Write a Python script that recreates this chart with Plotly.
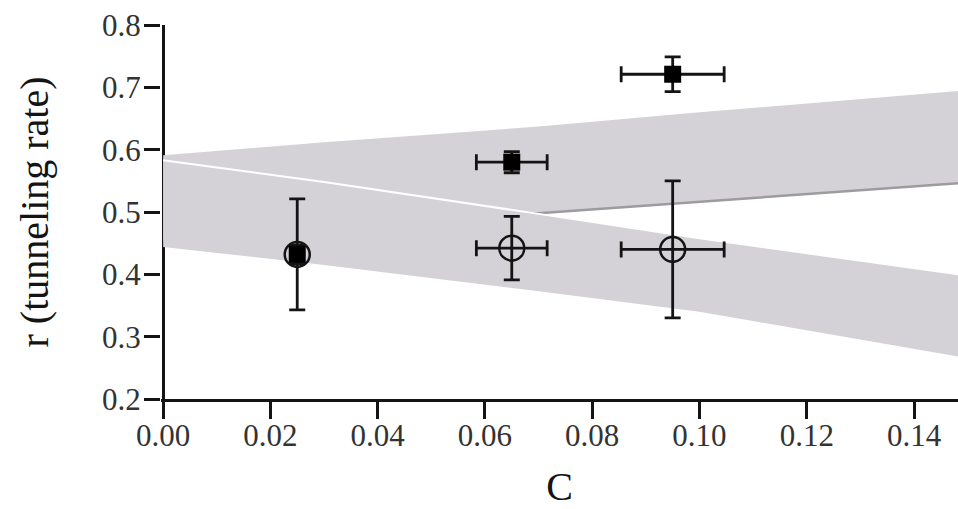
import plotly.graph_objects as go

# ---- data ----
# confidence bands (edge values sampled along C)
band_c = [0.0, 0.03, 0.07, 0.10, 0.1482]
upper_band_top = [0.591, 0.612, 0.637, 0.660, 0.694]
upper_band_bottom = [0.455, 0.475, 0.498, 0.516, 0.546]
lower_band_top = [0.583, 0.548, 0.497, 0.458, 0.400]
lower_band_bottom = [0.444, 0.415, 0.373, 0.340, 0.268]

# filled squares
sq_c = [0.025, 0.065, 0.095]
sq_r = [0.432, 0.580, 0.721]
sq_r_err = [0.015, 0.017, 0.028]
sq_c_err = [0.0, 0.0066, 0.0096]

# open circles
ci_c = [0.025, 0.065, 0.095]
ci_r = [0.432, 0.442, 0.440]
ci_r_err = [0.089, 0.051, 0.110]
ci_c_err = [0.0, 0.0066, 0.0096]

x_ticks = [0.00, 0.02, 0.04, 0.06, 0.08, 0.10, 0.12, 0.14]
x_ticklabels = ["0.00", "0.02", "0.04", "0.06", "0.08", "0.10", "0.12", "0.14"]
y_ticks = [0.2, 0.3, 0.4, 0.5, 0.6, 0.7, 0.8]
y_ticklabels = ["0.2", "0.3", "0.4", "0.5", "0.6", "0.7", "0.8"]

BAND = "#d4d2d7"
INK = "#141414"
FONT = "Liberation Serif"

fig = go.Figure()

# upper band
fig.add_trace(go.Scatter(
    x=band_c + band_c[::-1], y=upper_band_top + upper_band_bottom[::-1],
    fill="toself", fillcolor=BAND, line=dict(width=0), mode="lines",
    hoverinfo="skip", showlegend=False))
# darker edge along the upper band's lower boundary
fig.add_trace(go.Scatter(
    x=band_c, y=upper_band_bottom, mode="lines",
    line=dict(color="#9d9ba0", width=2.5), hoverinfo="skip", showlegend=False))
# lower band
fig.add_trace(go.Scatter(
    x=band_c + band_c[::-1], y=lower_band_top + lower_band_bottom[::-1],
    fill="toself", fillcolor=BAND, line=dict(width=0), mode="lines",
    hoverinfo="skip", showlegend=False))
# thin white edge along the lower band's top
fig.add_trace(go.Scatter(
    x=band_c, y=lower_band_top, mode="lines",
    line=dict(color="white", width=2), hoverinfo="skip", showlegend=False))

# open circles
fig.add_trace(go.Scatter(
    x=ci_c, y=ci_r, mode="markers",
    marker=dict(symbol="circle-open", size=25, color=INK, line=dict(width=2.5, color=INK)),
    error_y=dict(type="data", array=ci_r_err, color=INK, thickness=2.8, width=8),
    error_x=dict(type="data", array=ci_c_err, color=INK, thickness=2.8, width=8),
    showlegend=False))
# filled squares
fig.add_trace(go.Scatter(
    x=sq_c, y=sq_r, mode="markers",
    marker=dict(symbol="square", size=17, color="#000000"),
    error_y=dict(type="data", array=sq_r_err, color=INK, thickness=2.8, width=8),
    error_x=dict(type="data", array=sq_c_err, color=INK, thickness=2.8, width=8),
    showlegend=False))

fig.update_layout(
    width=958, height=509,
    margin=dict(l=161, r=0, t=25, b=110),
    paper_bgcolor="white", plot_bgcolor="white",
    font=dict(family=FONT, color=INK),
    hovermode=False,
    xaxis=dict(
        range=[-0.0004, 0.1482], tickvals=x_ticks, ticktext=x_ticklabels,
        showgrid=False, showline=True, linecolor=INK, linewidth=2.5,
        ticks="outside", ticklen=17, tickwidth=2.5, tickcolor=INK,
        ticklabelstandoff=-10, ticklabeloverflow="allow",
        zeroline=True, zerolinecolor=INK, zerolinewidth=2.5,
        tickfont=dict(size=31, family=FONT, color="#333333"),
        title=dict(text="C", font=dict(size=40, family=FONT, color=INK), standoff=28),
        automargin=False,
    ),
    yaxis=dict(
        range=[0.2, 0.8], tickvals=y_ticks, ticktext=y_ticklabels,
        showgrid=False, showline=False, zeroline=False,
        ticks="outside", ticklen=16, tickwidth=2.5, tickcolor=INK,
        ticklabelstandoff=-3, ticklabeloverflow="allow",
        tickfont=dict(size=31, family=FONT, color="#333333"),
        title=dict(text="r (tunneling rate)", font=dict(size=40, family=FONT, color=INK), standoff=41),
        automargin=False,
    ),
)

fig.write_html(
    "out.html",
    config={"displayModeBar": False},
    post_script="document.body.style.margin='0';document.body.style.overflow='hidden';",
)
